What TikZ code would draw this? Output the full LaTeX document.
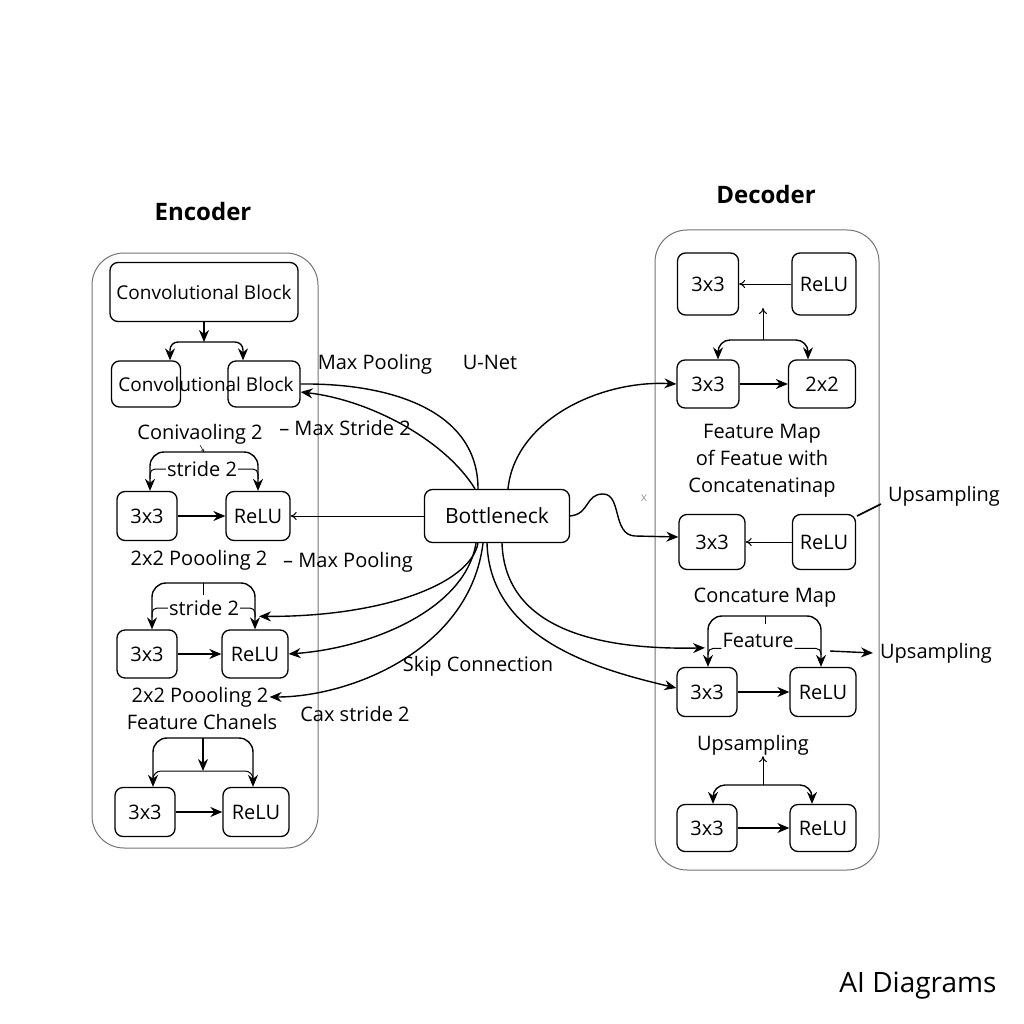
\documentclass[tikz,border=0pt]{standalone}
\usepackage{fontspec}
\setmainfont{Open Sans}
\usetikzlibrary{arrows.meta}

\begin{document}
\begin{tikzpicture}[x=1pt,y=-1pt,
	box/.style={draw,rounded corners=8pt,line width=1.3pt,minimum width=62pt,minimum height=49pt,inner sep=2pt,font=\fontsize{20}{23}\selectfont},
	panel/.style={draw=black!55,line width=1pt,rounded corners=32pt},
	lbl/.style={font=\fontsize{20}{23}\selectfont,inner sep=1pt},
	ttl/.style={font=\fontsize{24}{28}\selectfont\bfseries},
	arr/.style={-{Stealth[length=12pt,width=10pt]},line width=1.4pt},
	tarr/.style={-{To[length=6pt,width=8pt]},line width=1pt},
	link/.style={line width=1.4pt},
	inner/.style={line width=1pt,rounded corners=5pt}]
	\useasboundingbox (0,0) rectangle (1024,1024);
	\draw[panel] (92,253) rectangle (318,848);
	\draw[panel] (655,230) rectangle (879,870);
	\node[ttl] (enc) at (203,212) {Encoder};
	\node[ttl] (dec) at (766,195) {Decoder};

	\node[box,minimum width=188pt,minimum height=59pt,font=\fontsize{19}{22}\selectfont] (cb1) at (204,292) {Convolutional Block};
	\node[box,minimum width=69pt,minimum height=46pt] (cbL) at (146,384) {};
	\node[box,minimum width=72pt,minimum height=46pt] (cbR) at (264,384) {};
	\node[font=\fontsize{19}{22}\selectfont] (cb2) at (206,384) {Convolutional Block};
	\coordinate (e0) at (204,342);
	\draw[arr] (cb1.south) -- (e0);
	\draw[arr,rounded corners=8pt] (e0) -| ([xshift=24pt]cbL.north);
	\draw[arr,rounded corners=8pt] (e0) -| ([xshift=-21pt]cbR.north);

	\node[lbl] (c1) at (200,434) {Conivaoling 2};
	\node[box,minimum width=60pt] (e1a) at (147,516) {3x3};
	\node[box,minimum width=64pt] (e1b) at (258,516) {ReLU};
	\coordinate (e1t) at (204,452);
	\draw[-{To[length=3pt,width=3pt]},line width=0.5pt] (c1.south) -- (e1t);
	\draw[arr,rounded corners=14pt] (e1t) -| ([xshift=3pt]e1a.north);
	\draw[arr,rounded corners=14pt] (e1t) -| (e1b.north);
	\node[lbl] (s1) at (202,469) {stride 2};
	\draw[inner] (s1.west) -| ([xshift=3pt,yshift=12pt]e1a.north);
	\draw[inner] (s1.east) -| ([yshift=12pt]e1b.north);
	\draw[arr] (e1a) -- (e1b);
	\node[lbl] (p1) at (199,560) {2x2 Poooling 2};
	\node[lbl] (mp2) at (348,562) {– Max Pooling};

	\node[box,minimum width=60pt,minimum height=48pt] (e2a) at (147,654) {3x3};
	\node[box,minimum width=66pt,minimum height=48pt] (e2b) at (255,654) {ReLU};
	\coordinate (e2t) at (203,583);
	\draw[line width=1pt] (e2t) -- ++(0,12);
	\draw[arr,rounded corners=14pt] (e2t) -| ([xshift=5pt]e2a.north);
	\draw[arr,rounded corners=14pt] (e2t) -| (e2b.north);
	\node[lbl] (s2) at (204,608) {stride 2};
	\draw[inner] (s2.west) -| ([xshift=5pt,yshift=12pt]e2a.north);
	\draw[inner] (s2.east) -| ([yshift=12pt]e2b.north);
	\draw[arr] (e2a) -- (e2b);
	\node[lbl] (p2) at (200,697) {2x2 Poooling 2};
	\node[lbl] (fc) at (202,722) {Feature Chanels};

	\node[box,minimum width=60pt] (e3a) at (145,812) {3x3};
	\node[box,minimum width=66pt] (e3b) at (256,812) {ReLU};
	\coordinate (e3t) at (203,738);
	\coordinate (e3m) at (203,771);
	\draw[arr,rounded corners=14pt] (e3t) -| ([xshift=8pt]e3a.north);
	\draw[arr,rounded corners=14pt] (e3t) -| ([xshift=-3pt]e3b.north);
	\draw[arr] (e3t) -- (e3m);
	\draw[inner,rounded corners=8pt] ([xshift=8pt,yshift=8pt]e3a.north) |- (e3m) -| ([xshift=-3pt,yshift=8pt]e3b.north);
	\draw[arr] (e3a) -- (e3b);

	\node[lbl] (unet) at (490,362) {U-Net};
	\node[lbl] (mp1) at (375,364) {Max Pooling};
	\node[lbl] (ms) at (345,428) {– Max Stride 2};
	\node[box,minimum width=145pt,minimum height=53pt,font=\fontsize{21}{24}\selectfont] (bn) at (497,516) {Bottleneck};
	\node[lbl] (skip) at (478,666) {Skip Connection};
	\node[lbl] (cax) at (355,714) {Cax stride 2};
	\node[text=black!40,font=\fontsize{12}{13}\selectfont] (xm) at (644,498) {x};

	\draw[link] ([xshift=-19pt]bn.north) .. controls (478,410) and (390,383) .. (cbR.east);
	\draw[arr] ([xshift=-22pt]bn.north) .. controls (445,440) and (370,400) .. ([yshift=-8pt]cbR.east);
	\draw[tarr] (bn.west) -- (e1b.east);
	\draw[arr] ([xshift=-19pt]bn.south) .. controls (470,585) and (380,617) .. ([xshift=4pt,yshift=13pt]e2b.north);
	\draw[arr] ([xshift=-21pt]bn.south) .. controls (465,610) and (370,648) .. (e2b.east);
	\draw[arr] ([xshift=-14pt]bn.south) .. controls (470,650) and (350,697) .. (p2.east);

	\node[box,minimum width=61pt,minimum height=62pt] (d1a) at (708,284) {3x3};
	\node[box,minimum width=64pt,minimum height=62pt] (d1b) at (824,284) {ReLU};
	\draw[tarr] (d1b) -- (d1a);
	\node[box,minimum width=62pt,minimum height=48pt] (d2a) at (708,384) {3x3};
	\node[box,minimum width=67pt,minimum height=48pt] (d2b) at (822,384) {2x2};
	\draw[arr] (d2a) -- (d2b);
	\coordinate (d2t) at (763,340);
	\draw[tarr] (d2t) -- ++(0,-32);
	\draw[arr,rounded corners=12pt] (d2t) -| ([xshift=10pt]d2a.north);
	\draw[arr,rounded corners=12pt] (d2t) -| ([xshift=-14pt]d2b.north);
	\node[lbl,align=center,font=\fontsize{20}{27}\selectfont] (fm) at (762,461) {Feature Map\\of Featue with\\Concatenatinap};
	\node[lbl] (u1) at (944,496) {Upsampling};
	\draw[line width=1.6pt] (u1.west) ++(-6,8) -- ++(-24,12);

	\node[box,minimum width=66pt,minimum height=55pt] (d3a) at (712,542) {3x3};
	\node[box,minimum width=63pt,minimum height=55pt] (d3b) at (824,542) {ReLU};
	\draw[tarr] (d3b) -- (d3a);

	\node[lbl] (cm) at (765,598) {Concature Map};
	\node[box,minimum width=60pt] (d4a) at (707,692) {3x3};
	\node[box,minimum width=66pt] (d4b) at (823,692) {ReLU};
	\coordinate (d4t) at (765,616);
	\draw[line width=1pt] (d4t) -- ++(0,8);
	\draw[arr,rounded corners=14pt] (d4t) -| ([xshift=1pt]d4a.north);
	\draw[arr,rounded corners=14pt] (d4t) -| ([xshift=-2pt]d4b.north);
	\node[lbl] (ft) at (758,640) {Feature};
	\draw[inner] (ft.south west) -| ([xshift=1pt,yshift=12pt]d4a.north);
	\draw[inner] (ft.south east) -| ([xshift=-2pt,yshift=12pt]d4b.north);
	\draw[arr] (d4a) -- (d4b);
	\coordinate (ua) at (830,651);
	\node[lbl] (u2) at (936,653) {Upsampling};
	\draw[arr] (ua) -- ([xshift=-6pt]u2.west);

	\node[lbl] (u3) at (753,745) {Upsampling};
	\node[box,minimum width=60pt,minimum height=47pt] (d5a) at (707,828) {3x3};
	\node[box,minimum width=66pt,minimum height=47pt] (d5b) at (823,828) {ReLU};
	\coordinate (d5t) at (763,785);
	\draw[tarr] (d5t) -- (u3.south -| d5t);
	\draw[arr,rounded corners=12pt] (d5t) -| ([xshift=6pt]d5a.north);
	\draw[arr,rounded corners=12pt] (d5t) -| ([xshift=-11pt]d5b.north);
	\draw[arr] (d5a) -- (d5b);

	\draw[arr] ([xshift=11pt]bn.north) .. controls (515,420) and (600,380) .. (d2a.west);
	\draw[arr] (bn.east) .. controls (590,514) and (585,494) .. (603,494) .. controls (622,494) and (612,535) .. (635,536) -- ([yshift=5pt]d3a.west);
	\draw[arr] ([xshift=5pt]bn.south) .. controls (505,630) and (600,650) .. ([xshift=-2pt,yshift=19pt]d4a.north);
	\draw[arr] ([xshift=-10pt]bn.south) .. controls (490,640) and (600,670) .. ([yshift=4pt]d4a.west);

	\node[font=\fontsize{28}{32}\selectfont] (wm) at (918,986) {AI Diagrams};
\end{tikzpicture}
\end{document}
